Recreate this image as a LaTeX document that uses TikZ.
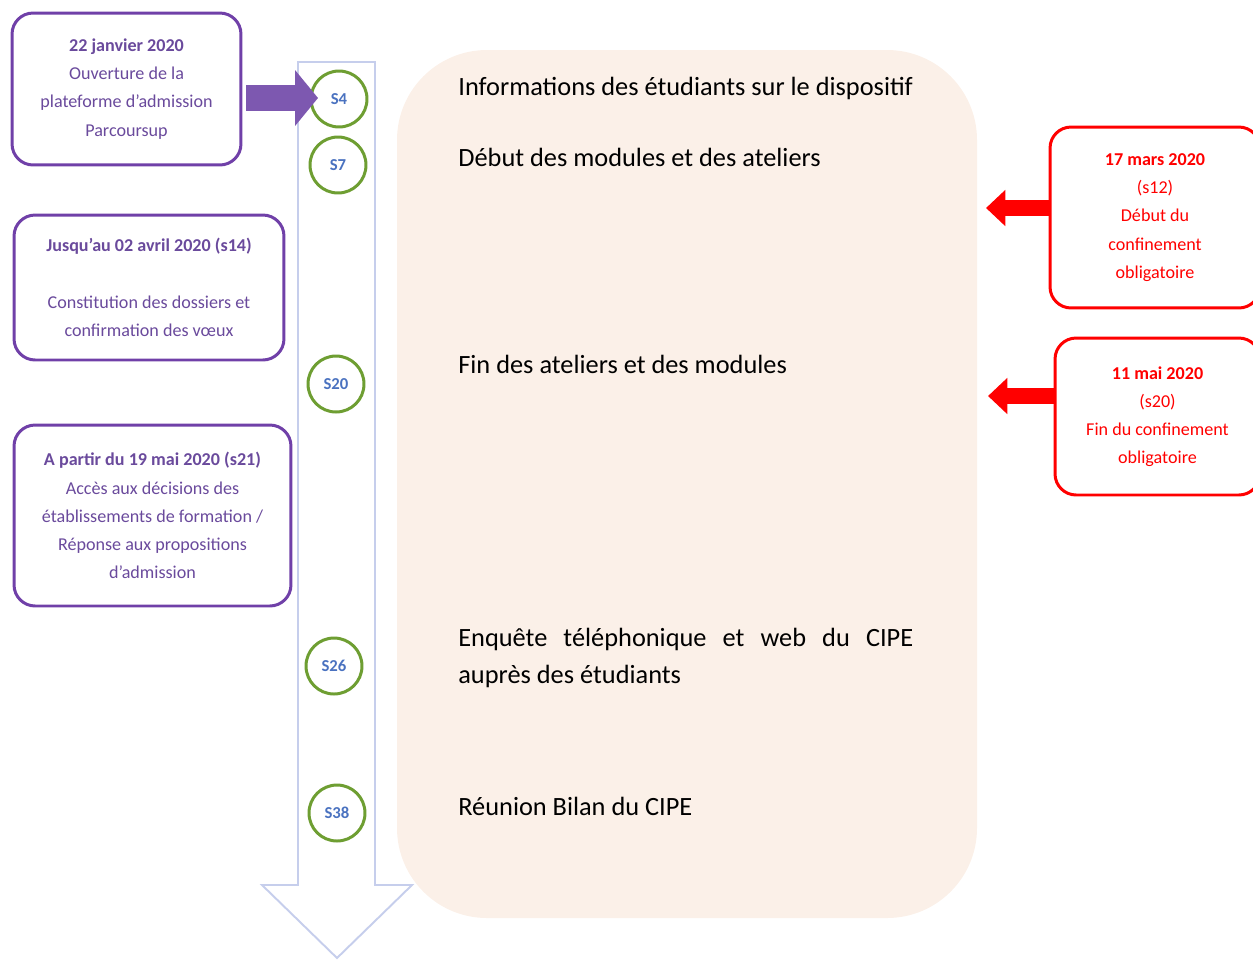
\documentclass[tikz,border=0pt]{standalone}
\usepackage{fontspec}
\setmainfont{Carlito}
\usetikzlibrary{arrows.meta}
\definecolor{boxpurple}{HTML}{7040A8}
\definecolor{txtpurple}{HTML}{6A4A9C}
\definecolor{arrpurple}{HTML}{7D58B0}
\definecolor{weekgreen}{HTML}{6E9E32}
\definecolor{weekblue}{HTML}{4A72C0}
\definecolor{linered}{HTML}{FF0000}
\definecolor{peach}{HTML}{FBF0E8}
\definecolor{lineblue}{HTML}{C6CEEC}
\begin{document}
\begin{tikzpicture}[x=0.02cm, y=-0.02cm,
    purplebox/.style={draw=boxpurple, line width=1.7pt, rounded corners=12pt, align=center,
        text=txtpurple, font=\fontsize{10.3}{16}\selectfont, inner sep=0pt},
    redbox/.style={draw=linered, line width=1.7pt, rounded corners=12pt, align=center,
        text=linered, font=\fontsize{10.3}{16}\selectfont, inner sep=0pt},
    week/.style={circle, draw=weekgreen, line width=1.7pt, fill=white, minimum size=1.12cm,
        inner sep=0pt, text=weekblue, font=\fontsize{9.5}{10}\selectfont\bfseries},
    event/.style={anchor=west, font=\fontsize{15}{21.5}\selectfont, inner sep=0pt}]
    \useasboundingbox (0,0) rectangle (1253,961);
    % fond des activités
    \fill[peach] (397,50) [rounded corners=1.8cm] rectangle (977,918);
    % flèche du temps
    \draw[lineblue, line width=1.1pt, fill=white] (298,62) -- (375,62) -- (375,885) -- (412,885)
        -- (337,958) -- (262,885) -- (298,885) -- cycle;
    % semaines
    \node[week] (s4) at (339,99) {S4};
    \node[week] (s7) at (338,165) {S7};
    \node[week] (s20) at (336,384) {S20};
    \node[week] (s26) at (334,666) {S26};
    \node[week] (s38) at (337,813) {S38};
    % Parcoursup
    \node[purplebox, minimum width=4.58cm, minimum height=3.04cm] (janvier) at (126.5,89)
        {\textbf{22 janvier 2020}\\Ouverture de la\\plateforme d’admission\\Parcoursup};
    \node[purplebox, minimum width=5.4cm, minimum height=2.9cm] (avril) at (149,287.5)
        {\textbf{Jusqu’au 02 avril 2020 (s14)}\\~\\Constitution des dossiers et\\confirmation des vœux};
    \node[purplebox, minimum width=5.54cm, minimum height=3.62cm] (mai) at (152.5,515.5)
        {\textbf{A partir du 19 mai 2020 (s21)}\\Accès aux décisions des\\établissements de formation /\\Réponse aux propositions\\d’admission};
    \coordinate (s4in) at (318,98);
    \draw[arrpurple, line width=15pt, -{Triangle[length=13pt, width=31pt]}] (janvier.east) ++(4,9) -- (s4in);
    % confinement
    \node[redbox, minimum width=4.2cm, minimum height=3.62cm] (mars) at (1155,217.5)
        {\textbf{17 mars 2020}\\(s12)\\Début du\\confinement\\obligatoire};
    \node[redbox, minimum width=4.1cm, minimum height=3.14cm] (finconf) at (1157.5,416.5)
        {\textbf{11 mai 2020}\\(s20)\\Fin du confinement\\obligatoire};
    \coordinate (marsin) at (986,208);
    \coordinate (finin) at (988,396);
    \draw[linered, line width=9pt, -{Triangle[length=11pt, width=20pt]}] (mars.west |- marsin) -- (marsin);
    \draw[linered, line width=9pt, -{Triangle[length=11pt, width=20pt]}] (finconf.west |- finin) -- (finin);
    % activités
    \node[event] (info) at (458,88) {Informations des étudiants sur le dispositif};
    \node[event] (debut) at (458,157) {Début des modules et des ateliers};
    \node[event] (fin) at (458,364) {Fin des ateliers et des modules};
    \node[event, text width=9.1cm, align=justify] (enquete) at (458,658)
        {Enquête téléphonique et web du CIPE\linebreak auprès des étudiants};
    \node[event] (bilan) at (458,806) {Réunion Bilan du CIPE};
\end{tikzpicture}
\end{document}
